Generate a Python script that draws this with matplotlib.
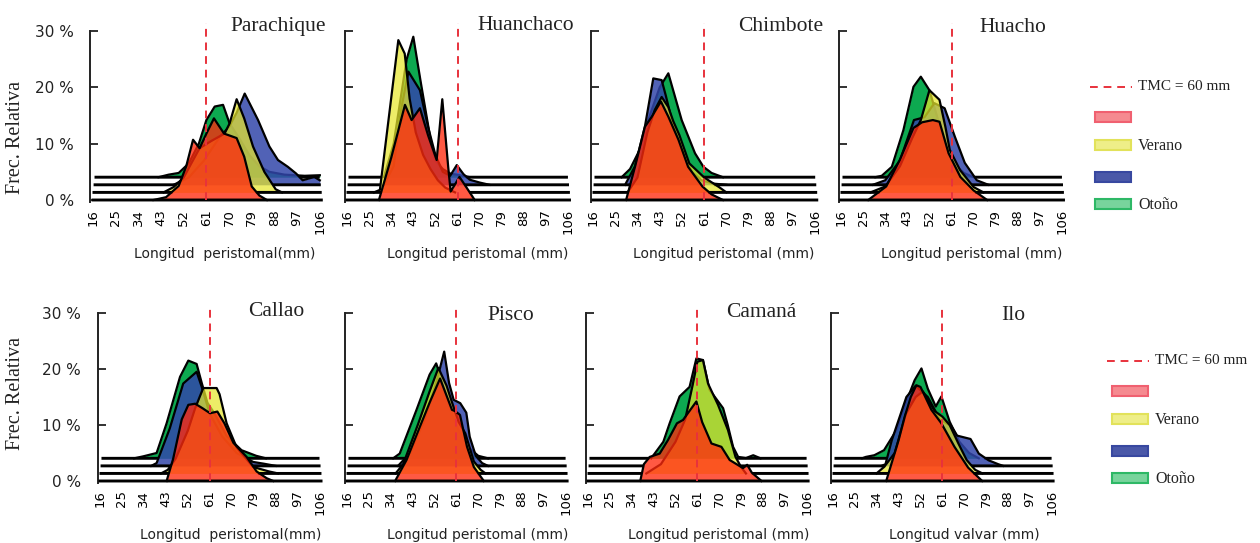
import numpy as np
import matplotlib
matplotlib.use("Agg")
import matplotlib.pyplot as plt
from matplotlib.patches import Rectangle

# Lienzo en pixeles (dpi 100)
W, H = 1260, 543

SERIF = "Liberation Serif"
SANS = "DejaVu Sans"

LONGITUD_TICKS = [16, 25, 34, 43, 52, 61, 70, 79, 88, 97, 106]
FREC_TICKS = [0, 10, 20, 30]
TMC = 61  # clase donde cae la talla minima de captura (60 mm)

# Series de frente a fondo: roja, amarilla (Verano), azul, verde (Otoño)
ESTACIONES = ["", "Verano", "", "Otoño"]
COLORES = ["#FF2A0E", "#E6E62C", "#3246AA", "#00A546"]
ALPHAS = [0.78, 0.72, 0.85, 0.95]
DESFASE = [0.0, 1.35, 2.7, 4.05]  # separacion vertical de las cintas (%)

# --- Frecuencia relativa (%) por clase de longitud -------------------------
parachique_x = [
    [40, 45, 50, 53, 55.7, 58.3, 61, 64, 68, 73, 76, 79, 82, 85],
    [44, 48, 52, 55, 58.3, 63, 68.2, 70.2, 73, 76, 79.5, 84, 88.5, 91],
    [48, 54, 60, 66, 70, 73, 76.2, 81.5, 86, 89.4, 93.3, 96.6, 99.2, 103.8, 106],
    [42, 46, 50, 54, 58, 61, 64.3, 67.6, 70.2, 74, 78, 82, 86, 92, 100, 106],
]
parachique_y = [
    [0, 0.5, 2.5, 6, 10.7, 9.2, 11.8, 14.5, 11.8, 11, 7.7, 2.4, 0.8, 0],
    [0, 0.95, 2.65, 5.15, 7.85, 9.15, 10.45, 12.25, 16.55, 13.15, 8.15, 3.65, 0.55, 0],
    [0, 1.3, 4.3, 8.3, 10.3, 12.8, 16.2, 11.5, 6.8, 4.4, 3.2, 2.0, 0.8, 1.4, 0.8],
    [0, 0.45, 0.75, 2.45, 5.95, 10.15, 12.55, 12.85, 9.55, 6.95, 3.95, 1.95, 0.95, 0.45, 0.25, 0.35],
]

huanchaco_x = [
    [29, 34, 39.6, 42.3, 45.7, 49, 52.5, 54.8, 57.2, 58.2, 61.8, 65, 68],
    [27, 29.4, 36.9, 39.5, 41.5, 44, 47, 50, 53, 56, 60],
    [31, 35, 38, 41, 45.7, 49, 52, 55, 58, 60.7, 63.4, 66, 70, 74],
    [31, 35, 40.3, 43, 46, 50.5, 52, 55, 58, 62, 66],
]
huanchaco_y = [
    [0, 7.5, 16.9, 14.2, 16.3, 11.5, 7.1, 17.9, 5.9, 1.5, 4.1, 2, 0],
    [0, 0.45, 27.05, 24.65, 16.65, 10.65, 6.65, 4.15, 2.15, 0.85, 0],
    [0, 3.3, 13.3, 20.1, 16.8, 10.3, 5.3, 2.3, 1.6, 3.5, 1.9, 0.9, 0.4, 0],
    [0, 5.95, 20.95, 24.95, 16.95, 5.45, 2.95, 1.45, 0.65, 0.35, 0],
]

chimbote_x = [
    [29.4, 33, 37, 39.8, 43.5, 46.5, 50.6, 54.5, 60.3, 64, 68.6],
    [30, 34, 38, 41, 43.8, 46.5, 48.5, 51, 55, 61, 67, 70],
    [29, 33, 37, 40.4, 43.8, 45.5, 48, 52, 56, 60, 65, 70],
    [27.6, 31, 35, 39, 43, 46.5, 51.9, 57.3, 60.7, 64, 68.6],
]
chimbote_y = [
    [0, 5.9, 13, 14.8, 17.5, 14.8, 10.7, 5.9, 2.4, 1, 0],
    [0, 2.65, 10.65, 14.65, 16.95, 15.15, 12.65, 10.15, 5.15, 2.65, 0.95, 0],
    [0, 3.3, 10.3, 18.9, 18.6, 15.8, 11.3, 6.3, 2.3, 0.8, 0.2, 0],
    [0, 1.45, 4.95, 10.95, 15.95, 18.45, 10.15, 4.25, 1.85, 0.75, 0],
]

huacho_x = [
    [27.1, 34.4, 39.9, 45.5, 49, 53.4, 56.1, 59.8, 64.6, 70, 75.5],
    [28, 34, 40, 45, 48.5, 52, 56.1, 58.5, 60.3, 64.5, 70, 74],
    [29, 34, 40, 45.7, 50, 54, 58.2, 62.4, 66.4, 71.3, 76],
    [30, 32.6, 36.7, 41.4, 45.5, 48.5, 52, 55, 58, 62, 66, 70],
]
huacho_y = [
    [0, 2.4, 7.1, 12.8, 13.8, 14.2, 13.9, 8.3, 4.1, 1.7, 0],
    [0, 1.05, 4.65, 9.65, 12.85, 18.15, 16.45, 11.65, 7.55, 3.95, 0.95, 0],
    [0, 0.8, 4.3, 11.5, 12.0, 14.5, 13.6, 8.5, 3.9, 0.8, 0],
    [0, 0.25, 1.85, 8.35, 16.05, 17.85, 15.45, 10.95, 5.95, 2.45, 0.75, 0],
]

callao_x = [
    [43.3, 46, 49.5, 52.2, 55, 58, 61.1, 64.1, 67, 70.7, 76.1, 80.2, 84.3, 87],
    [41, 43.8, 47, 52, 55, 58.3, 63.8, 65, 67.9, 72, 78.8, 85.3, 89],
    [37, 39.2, 44.6, 50.1, 55.6, 57.7, 61, 66, 72, 78.8, 83, 88],
    [30, 33.7, 39.2, 43.3, 48.8, 52.2, 55.6, 57.7, 60, 63, 68, 74, 80, 84],
]
callao_y = [
    [0, 4, 11, 13.6, 13.8, 13, 12.1, 12.4, 10.3, 6.8, 4.3, 1.7, 0.5, 0],
    [0, 0.65, 2.65, 7.65, 11.65, 15.25, 15.25, 14.15, 8.95, 4.65, 1.15, 0.35, 0],
    [0, 0.5, 6.7, 14.7, 16.8, 14.1, 9.3, 5.3, 2.3, 0.7, 0.4, 0],
    [0, 0.35, 0.95, 6.25, 14.55, 17.45, 16.85, 13.45, 9.95, 7.95, 3.95, 1.45, 0.45, 0],
]

pisco_x = [
    [35.8, 40.5, 46, 50, 54.3, 59.2, 60.4, 62.5, 65.4, 68.2, 72.3],
    [36, 39.1, 45.2, 50, 53.6, 57, 60, 62, 64.7, 68.2, 71, 73],
    [37, 42, 48, 53, 56, 58, 59.9, 62.6, 65.1, 66.5, 69, 71.6, 74],
    [35, 37.7, 44.6, 50, 52.7, 55, 58, 62, 66, 70, 74],
]
pisco_y = [
    [0, 3.75, 9.7, 14, 18.3, 12.7, 12.5, 11.8, 6.1, 2.5, 0],
    [0, 1.65, 8.75, 14.65, 18.85, 15.65, 11.65, 9.15, 7.15, 2.15, 0.65, 0],
    [0, 2.3, 8.3, 15.3, 20.4, 14.8, 11.8, 11.2, 9.5, 5.2, 1.8, 0.5, 0],
    [0, 0.85, 8.65, 14.95, 16.95, 13.95, 8.95, 4.95, 1.95, 0.45, 0],
]

camana_x = [
    [37.5, 39, 41.4, 45.5, 48.9, 52.6, 55.1, 60.6, 63, 66.8, 70.9, 74.3, 79.8, 81.5, 83.4, 87.4],
    [40, 46, 52, 56, 59, 61, 63.3, 65.4, 69.5, 73.6, 76.7, 79, 81],
    [],
    [42, 47, 49.6, 53.7, 57.8, 60.6, 63.3, 66, 71.6, 73.5, 75.7, 77.8, 81, 84, 87],
]
camana_y = [
    [0, 3, 4.3, 4.9, 7.3, 10.3, 10.9, 14.2, 10.5, 6.7, 6.1, 3.75, 2.3, 2.9, 1.5, 0],
    [0, 1.65, 5.65, 9.65, 15.65, 19.95, 20.25, 16.05, 12.25, 7.75, 2.95, 1.15, 0],
    [],
    [0, 2.95, 6.25, 11.05, 12.75, 17.85, 17.55, 12.25, 8.95, 5.95, 2.05, 0.25, 0.05, 0.55, 0],
]

ilo_x = [
    [37.9, 43, 45.5, 48, 50.3, 52, 56.5, 60.6, 66, 71.6, 77.4],
    [33.9, 37, 41.4, 46, 50, 53, 57.8, 61, 64, 67.6, 71, 74.5, 77.5],
    [36, 37.6, 40.2, 46.2, 50, 55, 60, 64.7, 67.1, 72.6, 76, 80, 84, 86],
    [28, 29.5, 33, 37, 42, 46, 49.6, 52.4, 55, 58.3, 60.6, 64, 68, 72, 76],
]
ilo_y = [
    [0, 7.3, 11.5, 15, 17.1, 16.8, 12.7, 10.3, 6.1, 2.4, 0],
    [0, 1.15, 3.65, 10.65, 13.65, 14.65, 11.15, 10.15, 8.65, 5.35, 2.4, 0.65, 0],
    [0, 0.3, 4.6, 12.3, 14.3, 12.3, 8.3, 7.1, 5.4, 4.8, 2.2, 1.0, 0.3, 0],
    [0, 0.25, 0.55, 1.45, 4.95, 9.95, 13.95, 16.05, 12.45, 9.25, 11.05, 6.55, 2.95, 0.95, 0],
]

# (titulo, etiqueta eje x, datos x, datos y)
PANELES = [
    ("Parachique", "Longitud  peristomal(mm)", parachique_x, parachique_y),
    ("Huanchaco", "Longitud peristomal (mm)", huanchaco_x, huanchaco_y),
    ("Chimbote", "Longitud peristomal (mm)", chimbote_x, chimbote_y),
    ("Huacho", "Longitud peristomal (mm)", huacho_x, huacho_y),
    ("Callao", "Longitud  peristomal(mm)", callao_x, callao_y),
    ("Pisco", "Longitud peristomal (mm)", pisco_x, pisco_y),
    ("Camaná", "Longitud peristomal (mm)", camana_x, camana_y),
    ("Ilo", "Longitud valvar (mm)", ilo_x, ilo_y),
]

# Geometria de cada panel en pixeles: x de la clase 16, px por mm,
# y del 0 %, px por punto porcentual
GEOM = [
    (93, 2.52, 200, 5.63), (347, 2.456, 200, 5.63),
    (593, 2.47, 200, 5.63), (841, 2.456, 200, 5.63),
    (100, 2.44, 481, 5.6), (347, 2.43, 481, 5.6),
    (588, 2.43, 481, 5.6), (833, 2.43, 481, 5.6),
]
# posicion de titulo (centro x, linea base y) y etiqueta x (centro x, y)
TITULO_POS = [(278, 31), (526, 30), (781, 31), (1013, 32),
              (276, 316), (511, 320), (761, 317), (1013, 320)]
XLABEL_POS = [(225, 254), (478, 254), (724, 254), (972, 254),
              (231, 535), (478, 535), (719, 535), (964, 535)]

XMIN, XMAX = 15, 107.5
YMIN, YMAX = -0.4, 30


def dibujar_cintas(ax, xs_series, ys_series):
    """Cintas pseudo-3D: de la serie del fondo (verde) a la del frente (roja)."""
    fino = np.linspace(XMIN, XMAX, 1500)
    perfiles = []
    for xs, ys, o in zip(xs_series, ys_series, DESFASE):
        if xs:
            perfiles.append(np.interp(fino, xs, ys, left=0, right=0) + o)
        else:
            perfiles.append(np.full_like(fino, o))

    for k in range(3, -1, -1):
        z = 10 - 2 * k
        xs, ys, o = xs_series[k], ys_series[k], DESFASE[k]
        if xs:
            top = np.add(ys, o)
            ax.fill_between(xs, o, top, color=COLORES[k], alpha=ALPHAS[k],
                            lw=0, zorder=z)
            ax.plot(xs, top, color="k", lw=1.6, zorder=z + 0.5)
        # linea base, oculta donde la tapan las cintas de delante
        base = np.full_like(fino, o)
        oculto = (fino < 15.4 + 0.4 * k) | (fino > 107.2 - 0.4 * k)
        for j in range(k):
            oculto |= perfiles[j] > o + 0.2
        base[oculto] = np.nan
        ax.plot(fino, base, color="k", lw=2.1, zorder=z + 0.6,
                solid_capstyle="butt")


fig = plt.figure(figsize=(W / 100, H / 100), dpi=100)

for i, (titulo, xlabel, xs_series, ys_series) in enumerate(PANELES):
    p16, ppm, y0, ppy = GEOM[i]
    left = p16 + (XMIN - 16) * ppm
    width = (XMAX - XMIN) * ppm
    bottom = y0 - YMIN * ppy
    height = (YMAX - YMIN) * ppy
    ax = fig.add_axes([left / W, 1 - bottom / H, width / W, height / H])
    ax.patch.set_alpha(0)
    ax.set_xlim(XMIN, XMAX)
    ax.set_ylim(YMIN, YMAX)

    dibujar_cintas(ax, xs_series, ys_series)
    ax.plot([TMC, TMC], [0, 31.5], color="#E8323C", lw=1.4,
            ls=(0, (4, 3)), zorder=20, clip_on=False)

    for s in ("top", "right", "bottom"):
        ax.spines[s].set_visible(False)
    ax.spines["left"].set_color("#222222")
    ax.spines["left"].set_linewidth(1.4)

    ax.set_yticks(FREC_TICKS)
    ax.tick_params(axis="y", direction="in", length=6, width=1.3,
                   pad=12, labelsize=11, colors="#222222")
    if i % 4 == 0:
        ax.set_yticklabels([f"{v} %" for v in FREC_TICKS], family=SANS)
    else:
        ax.tick_params(axis="y", labelleft=False)

    ax.set_xticks(LONGITUD_TICKS)
    ax.set_xticklabels([str(v) for v in LONGITUD_TICKS], rotation=90,
                       fontsize=9.5, family=SANS)
    ax.tick_params(axis="x", length=0, pad=5)

# capa de anotaciones en coordenadas de pixel
capa = fig.add_axes([0, 0, 1, 1])
capa.set_xlim(0, W)
capa.set_ylim(H, 0)
capa.axis("off")

for i, (titulo, xlabel, _, _) in enumerate(PANELES):
    tx, ty = TITULO_POS[i]
    capa.text(tx, ty, titulo, family=SERIF, fontsize=15.5, ha="center",
              va="baseline", color="#222222")
    lx, ly = XLABEL_POS[i]
    capa.text(lx, ly, xlabel, family=SANS, fontsize=10, ha="center",
              va="center", color="#222222")

for yc in (138, 393):
    capa.text(16, yc, "Frec. Relativa", family=SERIF, fontsize=14.5,
              rotation=90, ha="center", va="center", color="#222222")

PARCHE_CARA = ["#F58A90", "#EEEE88", "#4A58A8", "#78D49C"]
PARCHE_BORDE = ["#F06070", "#E2E25A", "#3848A0", "#2EB866"]


def dibujar_leyenda(x0, y0):
    capa.plot([x0, x0 + 42], [y0, y0], color="#E8323C", lw=1.4,
              ls=(0, (4, 3)))
    capa.text(x0 + 48, y0, "TMC = 60 mm", family=SERIF, fontsize=11,
              ha="left", va="center", color="#222222")
    for k, dy in enumerate((30, 58, 90, 117)):
        capa.add_patch(Rectangle((x0 + 5, y0 + dy - 5), 36, 10,
                                 facecolor=PARCHE_CARA[k],
                                 edgecolor=PARCHE_BORDE[k], lw=1.5))
        if ESTACIONES[k]:
            capa.text(x0 + 48, y0 + dy + 1, ESTACIONES[k], family=SERIF,
                      fontsize=11.5, ha="left", va="center", color="#222222")


dibujar_leyenda(1090, 87)
dibujar_leyenda(1107, 361)

fig.savefig("out.png", dpi=100)
